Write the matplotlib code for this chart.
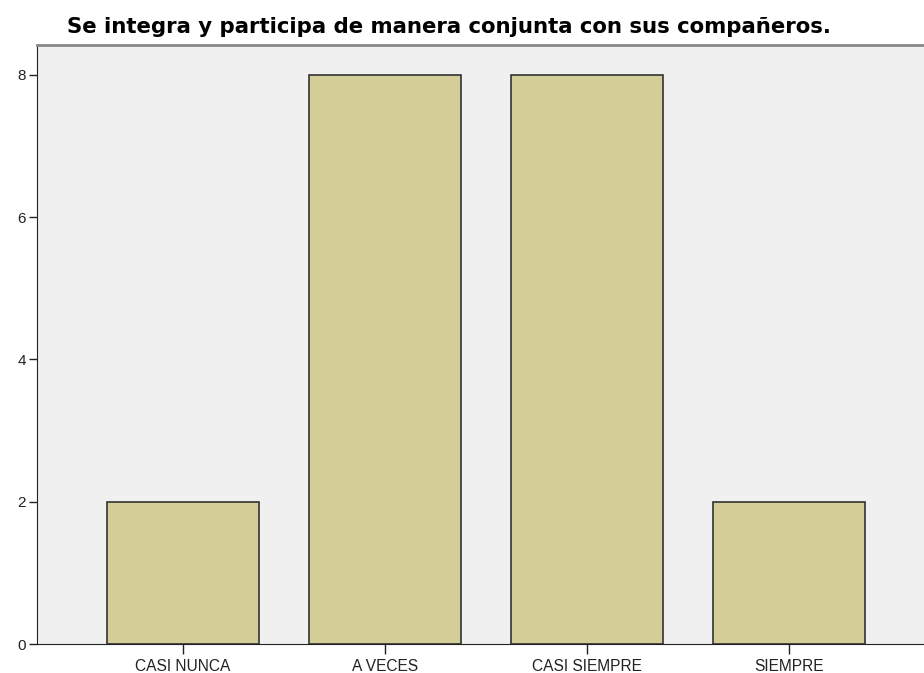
import matplotlib
matplotlib.use('Agg')
import matplotlib.pyplot as plt

# data
categories = ['CASI NUNCA', 'A VECES', 'CASI SIEMPRE', 'SIEMPRE']
counts = [2, 8, 8, 2]
yticks = [0, 2, 4, 6, 8]
title = 'Se integra y participa de manera conjunta con sus compañeros.'

plt.rcParams['font.family'] = ['Liberation Sans', 'DejaVu Sans']

fig = plt.figure(figsize=(9.24, 6.73), dpi=100)
ax = fig.add_axes([37/924, 29/673, 1 - 37/924, 599/673])
ax.set_facecolor('#F0F0F0')

x = range(len(categories))
ax.bar(x, counts, width=0.75, color='#D3CE97', edgecolor='#333333', linewidth=1.2, zorder=2)

ax.set_xlim(-0.723, 3.668)
ax.set_ylim(0, 8.42)
ax.set_xticks(list(x))
ax.set_xticklabels(categories, fontsize=11.2)
ax.set_yticks(yticks)
ax.set_yticklabels([str(v) for v in yticks], fontsize=11)
ax.tick_params(axis='x', direction='out', length=7, width=1, colors='#222222', pad=4)
ax.tick_params(axis='y', direction='out', length=6, width=1, colors='#222222', pad=2)

ax.spines['right'].set_visible(False)
ax.spines['top'].set_color('#888888')
ax.spines['top'].set_linewidth(2)
ax.spines['left'].set_color('#222222')
ax.spines['bottom'].set_color('#222222')

fig.text(449/924, 1 - 33/673, title, ha='center', va='baseline', fontsize=15.3,
         fontweight='bold', family='DejaVu Sans')

fig.savefig('out.png', dpi=100)
